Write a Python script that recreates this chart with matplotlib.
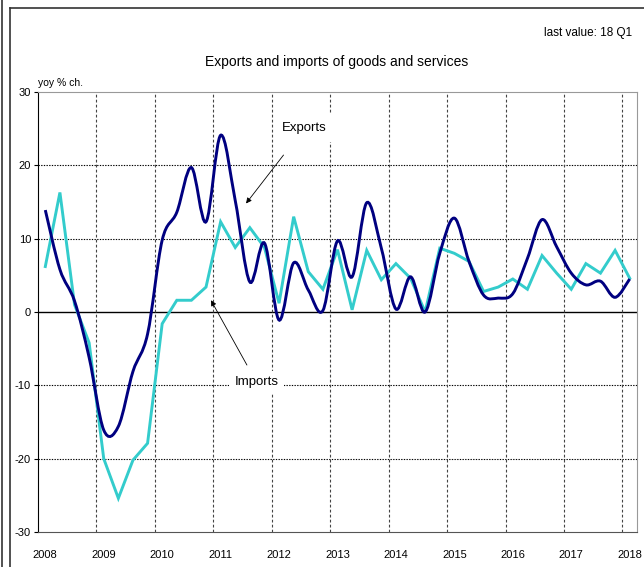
import numpy as np
import matplotlib
matplotlib.use("Agg")
import matplotlib.pyplot as plt
from matplotlib.path import Path
from matplotlib.patches import PathPatch
from matplotlib.lines import Line2D

plt.rcParams['font.family'] = ['Liberation Sans', 'DejaVu Sans']

# quarterly data 2008Q1 .. 2018Q1, yoy % change
exports = [13.9, 5.8, 1.5, -6.2, -16.1, -15.6, -8.1, -3.0,
           9.8, 13.6, 19.7, 12.3, 24.1, 15.2, 4.1, 9.4,
           -1.1, 6.7, 3.0, 0.2, 9.7, 4.8, 14.9, 8.7,
           0.4, 4.8, 0.0, 8.0, 12.8, 6.9, 2.3, 1.9,
           2.5, 7.3, 12.6, 8.9, 5.3, 3.7, 4.2, 2.0, 4.5]
imports = [6.2, 16.3, 1.0, -4.2, -20.0, -25.4, -20.2, -17.9,
           -1.6, 1.6, 1.6, 3.4, 12.3, 8.8, 11.5, 8.8,
           1.2, 13.0, 5.5, 3.1, 8.5, 0.3, 8.4, 4.4,
           6.6, 4.6, 0.0, 8.7, 8.0, 6.9, 2.8, 3.4,
           4.5, 3.1, 7.7, 5.3, 3.1, 6.6, 5.3, 8.4, 4.6]
years = list(range(2008, 2019))
yticks = [-30, -20, -10, 0, 10, 20, 30]

x = np.arange(len(exports)) / 4 + 2008.125


def smooth_path(xs, ys):
    # Catmull-Rom curve through the points, drawn as cubic Bezier segments
    pts = np.column_stack([xs, ys])
    verts = [pts[0]]
    codes = [Path.MOVETO]
    n = len(pts)
    for i in range(n - 1):
        p0 = pts[max(i - 1, 0)]
        p1 = pts[i]
        p2 = pts[i + 1]
        p3 = pts[min(i + 2, n - 1)]
        verts += [p1 + (p2 - p0) / 6, p2 - (p3 - p1) / 6, p2]
        codes += [Path.CURVE4] * 3
    return Path(verts, codes)


fig = plt.figure(figsize=(6.44, 5.67), dpi=100)
ax = fig.add_axes([38 / 644, 35 / 567, 599 / 644, 440 / 567])

ax.set_xlim(2008, 2018.25)
ax.set_ylim(-30, 30)

# grid
for yv in yticks[1:-1]:
    if yv == 0:
        ax.axhline(0, color='black', lw=1.0, zorder=1)
    else:
        ax.axhline(yv, color='black', lw=0.8, ls=(0, (1.2, 1.2)), zorder=1)
for yr in years[1:]:
    ax.axvline(yr, color='#444444', lw=0.8, ls=(0, (2.5, 2)), zorder=1)

ax.plot(x, imports, color='#33CCCC', lw=2.1, zorder=3, solid_joinstyle='miter')
ax.add_patch(PathPatch(smooth_path(x, exports), fill=False,
                       edgecolor='#000080', lw=2.1, zorder=4))

ax.set_yticks(yticks)
ax.set_yticklabels([str(v) for v in yticks], fontsize=8)
ax.tick_params(axis='y', length=3, width=0.8, pad=2)

ax.set_xticks(years)
ax.set_xticklabels([])
ax.set_xticks([yr + 0.125 for yr in years], minor=True)
ax.set_xticklabels([str(yr) for yr in years], minor=True, fontsize=8)
ax.tick_params(axis='x', which='both', length=0, pad=13)

ax.spines['left'].set_color('black')
ax.spines['bottom'].set_color('#555555')
ax.spines['right'].set_color('#999999')
ax.spines['top'].set_color('#999999')

ax.text(0.0, 1.008, 'yoy % ch.', transform=ax.transAxes, fontsize=7.5,
        ha='left', va='bottom')

ax.annotate('Exports', xy=(2011.56, 14.8), xytext=(2012.56, 25.1),
            fontsize=9.5, ha='center', va='center',
            bbox=dict(boxstyle='square,pad=0.6', fc='white', ec='none'),
            arrowprops=dict(arrowstyle='-|>', color='black', lw=0.6,
                            mutation_scale=8, shrinkA=12, shrinkB=0),
            zorder=2)
ax.annotate('Imports', xy=(2010.96, 1.6), xytext=(2011.74, -9.6),
            fontsize=9.5, ha='center', va='center',
            bbox=dict(boxstyle='square,pad=0.4', fc='white', ec='none'),
            arrowprops=dict(arrowstyle='-|>', color='black', lw=0.6,
                            mutation_scale=8, shrinkA=5, shrinkB=0),
            zorder=2)

fig.text(337 / 644, 1 - 62 / 567, 'Exports and imports of goods and services',
         fontsize=10, ha='center', va='center')
fig.text(632 / 644, 1 - 33 / 567, 'last value: 18 Q1', fontsize=8.5,
         ha='right', va='center')

# outer frame lines
fig.add_artist(Line2D([10 / 644, 10 / 644], [0, 1 - 8 / 567], color='#333333', lw=1.2))
fig.add_artist(Line2D([10 / 644, 1], [1 - 8 / 567, 1 - 8 / 567], color='#333333', lw=1.2))
fig.add_artist(Line2D([2 / 644, 2 / 644], [0, 1], color='#333333', lw=1.2))

fig.savefig('out.png', dpi=100)
